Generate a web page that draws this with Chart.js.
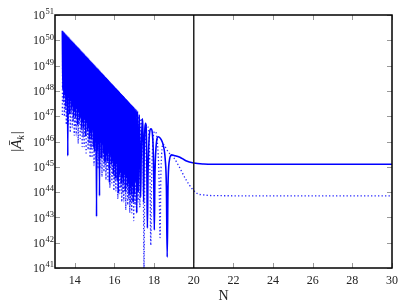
<!DOCTYPE html>
<html>
<head>
<meta charset="utf-8">
<script src="https://cdn.jsdelivr.net/npm/chart.js@4/dist/chart.umd.min.js"></script>
<style>
  html, body { margin: 0; padding: 0; background: #fff; }
  #wrap { width: 409px; height: 307px; }
</style>
</head>
<body>
<div id="wrap"><canvas id="canvas" width="409" height="307"></canvas></div>
<script>
// axis ticks
var xTicks = [14, 16, 18, 20, 22, 24, 26, 28, 30];
var yExps = [41, 42, 43, 44, 45, 46, 47, 48, 49, 50, 51];
var vLineN = 20;

// all values are [N, log10 |A_k|]
// solid curve: upper turning points of the fast oscillation
var solidPeaks = [
  [13.37, 50.38], [13.42, 50.34], [13.47, 50.30], [13.52, 50.25], [13.57, 50.21], [13.62, 50.17],
  [13.67, 50.13], [13.72, 50.09], [13.77, 50.04], [13.82, 50.00], [13.87, 49.96], [13.92, 49.92],
  [13.97, 49.88], [14.02, 49.83], [14.07, 49.79], [14.12, 49.75], [14.17, 49.71], [14.22, 49.67],
  [14.27, 49.62], [14.32, 49.58], [14.37, 49.54], [14.42, 49.50], [14.47, 49.46], [14.52, 49.41],
  [14.57, 49.37], [14.62, 49.33], [14.67, 49.29], [14.72, 49.25], [14.77, 49.20], [14.82, 49.16],
  [14.87, 49.12], [14.92, 49.08], [14.97, 49.04], [15.02, 48.99], [15.07, 48.95], [15.12, 48.91],
  [15.17, 48.87], [15.22, 48.83], [15.27, 48.78], [15.32, 48.74], [15.37, 48.70], [15.42, 48.66],
  [15.47, 48.62], [15.52, 48.57], [15.57, 48.53], [15.62, 48.49], [15.67, 48.45], [15.72, 48.41],
  [15.77, 48.36], [15.82, 48.32], [15.87, 48.28], [15.92, 48.24], [15.97, 48.20], [16.02, 48.15],
  [16.07, 48.11], [16.12, 48.07], [16.17, 48.03], [16.22, 47.99], [16.27, 47.94], [16.32, 47.90],
  [16.37, 47.86], [16.42, 47.82], [16.47, 47.78], [16.52, 47.73], [16.57, 47.69], [16.62, 47.65],
  [16.67, 47.61], [16.72, 47.57], [16.77, 47.52], [16.82, 47.48], [16.87, 47.44], [16.92, 47.40],
  [16.97, 47.36]
];
// solid curve: lower turning points
var solidDips = [
  [13.395, 48.06], [13.445, 47.71], [13.495, 47.86], [13.545, 47.39], [13.595, 47.64], [13.645, 45.43],
  [13.695, 47.74], [13.745, 47.08], [13.795, 47.62], [13.845, 47.27], [13.895, 47.42], [13.945, 46.96],
  [13.995, 47.21], [14.045, 46.95], [14.095, 47.30], [14.145, 46.64], [14.195, 47.19], [14.245, 46.84],
  [14.295, 46.98], [14.345, 46.52], [14.395, 46.77], [14.445, 46.52], [14.495, 46.87], [14.545, 46.20],
  [14.595, 46.75], [14.645, 46.40], [14.695, 46.55], [14.745, 46.09], [14.795, 46.33], [14.845, 46.08],
  [14.895, 46.43], [14.945, 45.77], [14.995, 45.60], [15.045, 45.96], [15.095, 43.03], [15.145, 45.65],
  [15.195, 45.90], [15.245, 43.85], [15.295, 45.99], [15.345, 45.33], [15.395, 45.88], [15.445, 45.53],
  [15.495, 45.20], [15.545, 45.21], [15.595, 45.46], [15.645, 45.21], [15.695, 45.56], [15.745, 44.37],
  [15.795, 45.44], [15.845, 45.09], [15.895, 45.24], [15.945, 44.70], [15.995, 45.03], [16.045, 44.55],
  [16.095, 45.12], [16.145, 44.46], [16.195, 43.95], [16.245, 44.66], [16.295, 44.80], [16.345, 44.34],
  [16.395, 44.59], [16.445, 44.34], [16.495, 44.69], [16.545, 44.02], [16.595, 44.57], [16.645, 44.22],
  [16.695, 44.37], [16.745, 43.91], [16.795, 44.15], [16.845, 43.90], [16.895, 44.25], [16.945, 43.59]
];
// solid curve: slower lobes and flat tail
var solidTail = [
  [17.00, 43.90], [17.03, 47.31], [17.06, 44.40], [17.09, 47.26], [17.125, 43.17], [17.16, 47.20],
  [17.20, 44.00], [17.25, 47.05], [17.29, 45.40], [17.32, 43.80], [17.35, 45.50], [17.40, 46.90],
  [17.45, 45.70], [17.47, 43.60], [17.50, 45.60], [17.57, 46.72], [17.62, 45.90], [17.64, 44.30],
  [17.66, 42.58], [17.69, 44.60], [17.74, 46.00], [17.84, 46.50], [17.94, 46.00], [17.98, 44.60],
  [18.01, 42.50], [18.04, 44.60], [18.10, 45.80], [18.21, 46.19], [18.35, 46.08], [18.46, 45.85],
  [18.56, 45.30], [18.62, 44.20], [18.66, 41.43], [18.70, 44.20], [18.76, 45.20], [18.88, 45.47],
  [19.00, 45.45], [19.30, 45.38], [19.60, 45.24], [20.00, 45.15], [20.50, 45.11], [21.00, 45.10],
  [25.00, 45.10], [30.00, 45.10]
];

// dotted curve
var dottedPeaks = [
  [13.395, 50.26], [13.445, 50.22], [13.495, 50.18], [13.545, 50.13], [13.595, 50.09], [13.645, 50.05],
  [13.695, 50.01], [13.745, 49.97], [13.795, 49.92], [13.845, 49.88], [13.895, 49.84], [13.945, 49.80],
  [13.995, 49.76], [14.045, 49.71], [14.095, 49.67], [14.145, 49.63], [14.195, 49.59], [14.245, 49.55],
  [14.295, 49.50], [14.345, 49.46], [14.395, 49.42], [14.445, 49.38], [14.495, 49.34], [14.545, 49.29],
  [14.595, 49.25], [14.645, 49.21], [14.695, 49.17], [14.745, 49.13], [14.795, 49.08], [14.845, 49.04],
  [14.895, 49.00], [14.945, 48.96], [14.995, 48.92], [15.045, 48.87], [15.095, 48.83], [15.145, 48.79],
  [15.195, 48.75], [15.245, 48.71], [15.295, 48.66], [15.345, 48.62], [15.395, 48.58], [15.445, 48.54],
  [15.495, 48.50], [15.545, 48.45], [15.595, 48.41], [15.645, 48.37], [15.695, 48.33], [15.745, 48.29],
  [15.795, 48.24], [15.845, 48.20], [15.895, 48.16], [15.945, 48.12], [15.995, 48.08], [16.045, 48.03],
  [16.095, 47.99], [16.145, 47.95], [16.195, 47.91], [16.245, 47.87], [16.295, 47.82], [16.345, 47.78],
  [16.395, 47.74], [16.445, 47.70], [16.495, 47.66], [16.545, 47.61], [16.595, 47.57], [16.645, 47.53],
  [16.695, 47.49], [16.745, 47.45], [16.795, 47.40], [16.845, 47.36], [16.895, 47.32], [16.945, 47.28]
];
var dottedDips = [
  [13.37, 47.05],
  [13.42, 47.54], [13.47, 46.99], [13.52, 47.24], [13.57, 46.67], [13.62, 47.02], [13.67, 46.67],
  [13.72, 47.12], [13.77, 46.36], [13.82, 47.10], [13.87, 46.55], [13.92, 46.80], [13.97, 46.24],
  [14.02, 46.59], [14.07, 46.23], [14.12, 46.68], [14.17, 45.92], [14.22, 46.67], [14.27, 46.12],
  [14.32, 46.36], [14.37, 45.80], [14.42, 46.15], [14.47, 45.80], [14.52, 46.25], [14.57, 45.48],
  [14.62, 46.23], [14.67, 45.68], [14.72, 45.93], [14.77, 45.37], [14.82, 45.71], [14.87, 45.36],
  [14.92, 45.81], [14.97, 45.05], [15.02, 45.80], [15.07, 45.24], [15.12, 45.49], [15.17, 44.93],
  [15.22, 45.28], [15.27, 44.93], [15.32, 45.37], [15.37, 44.61], [15.42, 45.36], [15.47, 44.81],
  [15.52, 45.06], [15.57, 44.49], [15.62, 44.84], [15.67, 44.49], [15.72, 44.94], [15.77, 44.18],
  [15.82, 44.92], [15.87, 44.37], [15.92, 44.62], [15.97, 44.06], [16.02, 44.41], [16.07, 44.05],
  [16.12, 44.50], [16.17, 43.74], [16.22, 44.49], [16.27, 43.94], [16.32, 44.18], [16.37, 43.62],
  [16.42, 43.97], [16.47, 43.62], [16.52, 44.07], [16.57, 43.30], [16.62, 44.05], [16.67, 43.50],
  [16.72, 43.75], [16.77, 43.19], [16.82, 43.53], [16.87, 43.18], [16.92, 43.63], [16.97, 42.87]
];
var dottedTail = [
  [17.00, 47.25], [17.04, 43.50], [17.07, 47.22], [17.11, 43.20], [17.14, 47.15], [17.19, 43.60],
  [17.23, 47.05], [17.28, 43.40], [17.33, 46.90], [17.42, 46.20], [17.46, 44.00], [17.49, 41.00],
  [17.52, 44.00], [17.56, 46.20], [17.64, 46.65], [17.74, 46.20], [17.80, 44.20], [17.83, 41.90],
  [17.87, 44.30], [17.94, 46.00], [18.04, 46.40], [18.16, 46.00], [18.25, 44.50], [18.30, 42.20],
  [18.34, 44.60], [18.38, 45.50], [18.45, 45.90], [18.55, 45.80], [18.70, 45.60], [19.00, 45.35],
  [19.30, 44.95], [19.60, 44.50], [19.97, 44.08], [20.20, 43.93], [20.48, 43.89], [21.00, 43.86],
  [25.00, 43.85], [30.00, 43.85]
];

function toPoints() {
  var all = [];
  for (var i = 0; i < arguments.length; i++) all = all.concat(arguments[i]);
  all.sort(function(a, b) { return a[0] - b[0]; });
  return all.map(function(p) { return { x: p[0], y: Math.pow(10, p[1]) }; });
}

var serif = "'Liberation Serif', 'DejaVu Serif', serif";

// frame, inward ticks, y labels and y title (matplotlib look)
var framePlugin = {
  id: 'frame',
  afterDraw: function(chart) {
    var ctx = chart.ctx;
    var a = chart.chartArea;
    var x = chart.scales.x;
    var y = chart.scales.y;
    ctx.save();
    ctx.strokeStyle = '#999';
    ctx.lineWidth = 1;
    ctx.beginPath();
    xTicks.forEach(function(v) {
      var px = Math.round(x.getPixelForValue(v)) + 0.5;
      ctx.moveTo(px, a.bottom); ctx.lineTo(px, a.bottom - 5);
      ctx.moveTo(px, a.top); ctx.lineTo(px, a.top + 5);
    });
    yExps.forEach(function(e) {
      var py = Math.round(y.getPixelForValue(Math.pow(10, e))) + 0.5;
      ctx.moveTo(a.left, py); ctx.lineTo(a.left + 5, py);
      ctx.moveTo(a.right, py); ctx.lineTo(a.right - 5, py);
    });
    ctx.stroke();

    ctx.strokeStyle = '#000';
    ctx.lineWidth = 1.5;
    ctx.strokeRect(a.left, a.top, a.right - a.left, a.bottom - a.top);

    // y tick labels 10^e
    ctx.fillStyle = '#222';
    ctx.textBaseline = 'middle';
    yExps.forEach(function(e) {
      var py = y.getPixelForValue(Math.pow(10, e));
      ctx.font = '12px ' + serif;
      ctx.textAlign = 'right';
      ctx.fillText('10', 45, py + 1);
      ctx.font = '8.5px ' + serif;
      ctx.textAlign = 'left';
      ctx.fillText(String(e), 45.5, py - 3);
    });

    // y title |Ā_k|
    ctx.translate(17, (a.top + a.bottom) / 2);
    ctx.rotate(-Math.PI / 2);
    ctx.textBaseline = 'middle';
    ctx.textAlign = 'left';
    ctx.font = '15px ' + serif;
    var w1 = ctx.measureText('|').width;
    ctx.font = 'italic 15px ' + serif;
    var w2 = ctx.measureText('Ā').width;
    ctx.font = 'italic 10px ' + serif;
    var w3 = ctx.measureText('k').width;
    var cx = -(w1 + w2 + w3 + w1 + 1) / 2;
    ctx.font = '15px ' + serif;
    ctx.fillText('|', cx, 0);
    cx += w1;
    ctx.font = 'italic 15px ' + serif;
    ctx.fillText('Ā', cx, 0);
    cx += w2;
    ctx.font = 'italic 10px ' + serif;
    ctx.fillText('k', cx, 4);
    cx += w3 + 1;
    ctx.font = '15px ' + serif;
    ctx.fillText('|', cx, 0);
    ctx.restore();
  }
};

var config = {
  type: 'line',
  data: {
    datasets: [
      {
        data: [{ x: vLineN, y: Math.pow(10, yExps[0]) }, { x: vLineN, y: Math.pow(10, yExps[yExps.length - 1]) }],
        borderColor: '#222',
        borderWidth: 1.5,
        pointRadius: 0
      },
      {
        data: toPoints(solidPeaks, solidDips, solidTail),
        borderColor: '#0000ff',
        borderWidth: 1.6,
        pointRadius: 0,
        cubicInterpolationMode: 'monotone'
      },
      {
        data: toPoints(dottedPeaks, dottedDips, dottedTail),
        borderColor: 'rgba(0, 0, 255, 0.85)',
        borderWidth: 1.3,
        borderDash: [1.3, 2.2],
        pointRadius: 0,
        cubicInterpolationMode: 'monotone'
      }
    ]
  },
  options: {
    responsive: false,
    animation: false,
    layout: { padding: { left: 0, right: 17, top: 15, bottom: 0 } },
    plugins: { legend: { display: false }, tooltip: { enabled: false } },
    scales: {
      x: {
        type: 'linear',
        min: 13,
        max: 30,
        grid: { display: false, drawTicks: false },
        border: { display: false },
        afterBuildTicks: function(s) { s.ticks = xTicks.map(function(v) { return { value: v }; }); },
        afterFit: function(s) { s.height = 39; },
        ticks: { color: '#222', padding: 6, maxRotation: 0, font: { family: serif, size: 12 } },
        title: { display: true, text: 'N', color: '#222', padding: { top: 0, bottom: 2 }, font: { family: serif, size: 14 } }
      },
      y: {
        type: 'logarithmic',
        min: Math.pow(10, yExps[0]),
        max: Math.pow(10, yExps[yExps.length - 1]),
        grid: { display: false, drawTicks: false },
        border: { display: false },
        ticks: { display: false },
        afterFit: function(s) { s.width = 55; }
      }
    }
  },
  plugins: [framePlugin]
};

var ctx = document.getElementById('canvas').getContext('2d');
var chart = new Chart(ctx, config);
</script>
</body>
</html>
